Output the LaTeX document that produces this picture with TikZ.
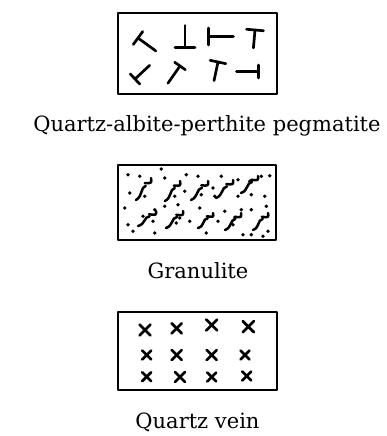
\documentclass[tikz,border=0pt]{standalone}
\usepackage{tikz}
\usepackage{fontspec}
\setmainfont{DejaVu Serif}
\usetikzlibrary{calc}
% T-shaped mark: centre of bar (x,y), angle of stem, bar length, stem length
\newcommand{\teemark}[5]{%
  \draw[sym] (#1,#2) ++(#3+90:#4/2) -- ++(#3-90:#4);
  \draw[sym] (#1,#2) -- ++(#3:#5);
}
% leaning squiggle: lower end, upper end
\newcommand{\squig}[2]{%
  \draw[squigline] ($(#1)!0!(#2)$) .. controls ($(#1)!0.3!(#2)+(2.5,2.5)$) and ($(#1)!0.45!(#2)+(-2.5,-2.5)$) .. ($(#1)!0.65!(#2)$);
  \draw[squigline] ($(#1)!0.72!(#2)+(-2,-1)$) .. controls ($(#1)!0.85!(#2)+(3,2)$) .. ($(#1)!1!(#2)$);
}
% cross mark: centre, half size
\newcommand{\crossmark}[2]{%
  \draw[sym] ($(#1)+(-#2,-#2)$) -- ($(#1)+(#2,#2)$);
  \draw[sym] ($(#1)+(#2,-#2)$) -- ($(#1)+(-#2,#2)$);
}

\begin{document}
\begin{tikzpicture}[x=1pt, y=-1pt, line cap=round, line join=round]
\tikzset{frame/.style={line width=2.6pt},
  sym/.style={line width=2.7pt},
  squigline/.style={line width=2.5pt},
  lbl/.style={font=\fontsize{21}{25}\selectfont, inner sep=0pt}}
\useasboundingbox (0,0) rectangle (386,436);

% boxes
\draw[frame] (118,13) rectangle (277,94);
\draw[frame] (118,165) rectangle (276,240);
\draw[frame] (118,312) rectangle (277,390);

% pegmatite marks
\teemark{138}{38}{36}{16}{22}
\teemark{185}{47.5}{-90}{20}{22}
\teemark{208.5}{36.5}{0}{17}{25}
\teemark{255}{30}{95}{17}{18}
\teemark{135}{79}{-43}{14}{20}
\teemark{180}{66}{125}{13}{21}
\teemark{218}{62}{102}{16}{19}
\teemark{258.5}{71.5}{180}{13}{22}

% granulite squiggles
\foreach \a/\b in {{136,200}/{151,178}, {165,201}/{180,181}, {191,200}/{208,181},
    {216,198}/{233,180}, {241,193}/{258,176},
    {138,226}/{156,211}, {166,228}/{183,211}, {198,228}/{213,213},
    {225,230}/{241,213}, {253,230}/{268,213}}
  \squig{\a}{\b};

% granulite dots
\foreach \p in {{128,174.7},{139.7,176.3},{161.3,169},{164.7,178},{186.3,174.7},
    {198,176.3},{221.3,176.3},{238,179.7},{249.7,181.3},{261.3,176.3},{269.7,175.7},
    {129.7,193},{144.7,196.3},{174.7,196.3},{184.7,191.3},{201.3,194.7},{213,188},
    {214.7,196.3},{238,196.3},{251.3,194.7},{264.7,196.3},{266.3,206.3},
    {124.7,208},{154.7,209.7},{164.7,206.3},{178,204.7},{199.7,208},{224.7,211.3},
    {241.3,209.7},{251.3,209.7},{143,216.3},{179.7,218},{189.7,221.3},{218,221.3},
    {234.7,218},{128,224.7},{153,221.3},{133,231.3},{154.7,233},{176.3,223},
    {206.3,233},{233,224.7},{243,234.7},{251.3,234.7},{263,236.3},{268,231.3}}
  \fill (\p) circle (1.9);

% quartz vein crosses
\foreach \p/\s in {{145,330}/5.5, {176.7,328.3}/5, {211.7,325}/5.5, {248.3,326.7}/5.5,
    {146.7,355}/4.5, {176.7,355}/5, {211.7,355}/5, {245,355}/4.5,
    {146.7,376.7}/4.5, {180,377}/5, {211.7,377}/4.5, {246.7,376}/4.5}
  \crossmark{\p}{\s};

% labels
\node[lbl, anchor=base] (peglabel) at (207,131) {Quartz-albite-perthite pegmatite};
\node[lbl, anchor=base] (granlabel) at (198,278) {Granulite};
\node[lbl, anchor=base] (veinlabel) at (197.5,428) {Quartz vein};
\end{tikzpicture}
\end{document}
